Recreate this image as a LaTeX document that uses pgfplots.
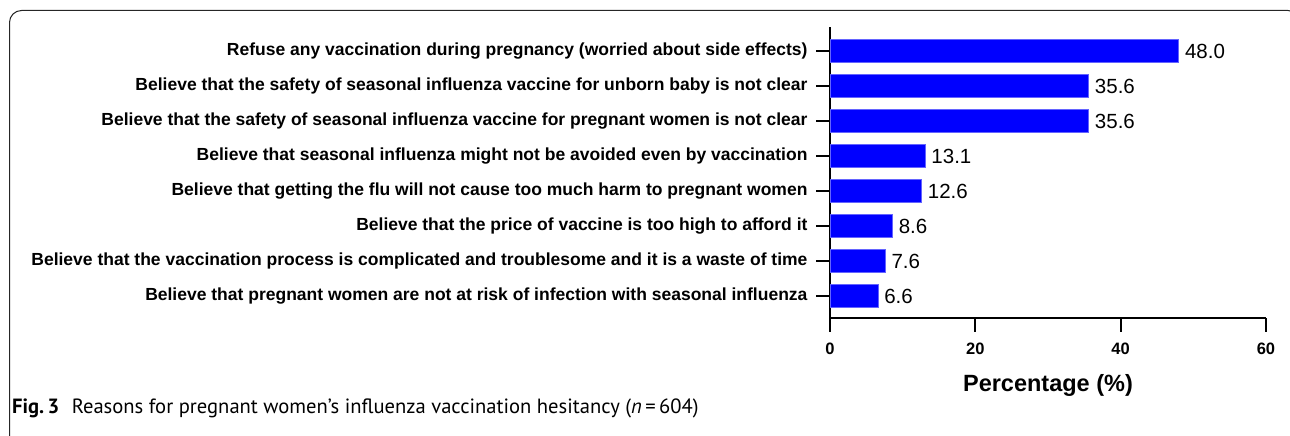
\documentclass[border=0pt]{standalone}
\usepackage{fontspec}
\setmainfont{Liberation Sans}
\newfontfamily\capfont{PT Sans}
\usepackage{pgfplots}
\pgfplotsset{compat=1.18}

\definecolor{barblue}{RGB}{0,0,255}
\definecolor{baredge}{RGB}{100,100,255}

\begin{document}
\begin{tikzpicture}[x=1pt,y=1pt]
\useasboundingbox (0,0) rectangle (1290,436);
\clip (0,0) rectangle (1290,436);
\draw[line width=1pt, rounded corners=12pt, black!85] (9.5,425.5) rectangle (1300,-12);

\begin{axis}[
  at={(830pt,118pt)}, anchor=south west,
  scale only axis, width=436pt, height=291pt,
  xbar, bar width=23pt,
  xmin=0, xmax=60, ymin=-0.629, ymax=7.686,
  axis x line*=bottom, axis y line*=left,
  axis line style={line width=2.2pt, black, -},
  every outer x axis line/.append style={line width=2.2pt, black, -},
  every outer y axis line/.append style={line width=2.2pt, black, -},
  tick align=outside, major tick length=14pt,
  every tick/.append style={line width=2.2pt, black},
  xtick={0,20,40,60},
  ytick={0,...,7},
  yticklabels={
    {Believe that pregnant women are not at risk of infection with seasonal influenza},
    {Believe that the vaccination process is complicated and troublesome and it is a waste of time},
    {Believe that the price of vaccine is too high to afford it},
    {Believe that getting the flu will not cause too much harm to pregnant women},
    {Believe that seasonal influenza might not be avoided even by vaccination},
    {Believe that the safety of seasonal influenza vaccine for pregnant women is not clear},
    {Believe that the safety of seasonal influenza vaccine for unborn baby is not clear},
    {Refuse any vaccination during pregnancy (worried about side effects)}
  },
  yticklabel style={font=\fontsize{17.5}{20}\selectfont\bfseries, anchor=east, xshift=-5pt},
  xticklabel style={font=\fontsize{16.5}{19}\selectfont\bfseries, yshift=-7pt},
  /pgf/number format/assume math mode=true,
  xlabel={Percentage (\%)},
  xlabel style={font=\fontsize{23.5}{27}\selectfont\bfseries, yshift=-13pt},
  point meta=x,
  nodes near coords={\pgfmathprintnumber[fixed,zerofill,precision=1,assume math mode=true]{\pgfplotspointmeta}},
  nodes near coords align={horizontal},
  nodes near coords style={font=\fontsize{20.5}{23}\selectfont, anchor=west, inner sep=0pt, xshift=6pt, black},
]
\addplot[fill=barblue, draw=baredge, line width=0.6pt] coordinates {
  (6.6,0) (7.6,1) (8.6,2) (12.6,3) (13.1,4) (35.6,5) (35.6,6) (48.0,7)
};
\end{axis}

\node[anchor=base west, inner sep=0pt] at (12,22) {\capfont\fontsize{20.6}{24}\selectfont\textbf{Fig.\,3}\hspace{0.6em}Reasons for pregnant women’s influenza vaccination hesitancy (\textit{n}\,=\,604)};
\end{tikzpicture}
\end{document}
